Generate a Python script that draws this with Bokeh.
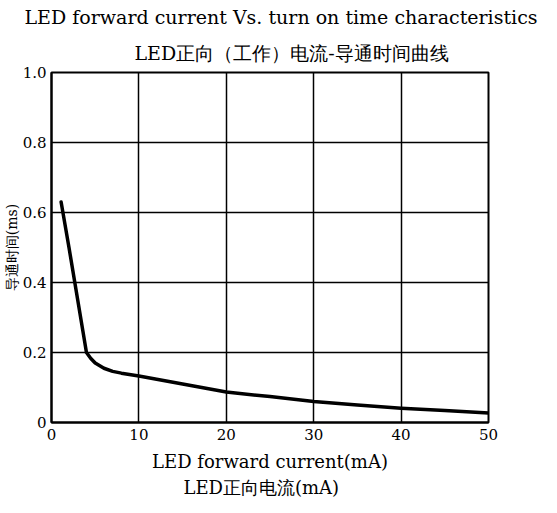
from bokeh.plotting import figure
from bokeh.models import Range1d, FixedTicker, Title
from bokeh.embed import file_html
from bokeh.resources import INLINE

# data
current_ma = [1.1, 2.0, 3.0, 3.6, 4.0, 4.5, 5.0, 6.0, 7.0, 8.0, 10.0, 15.0, 20.0, 25.0, 30.0, 35.0, 40.0, 45.0, 50.0]
turn_on_ms = [0.63, 0.50, 0.35, 0.26, 0.20, 0.183, 0.17, 0.155, 0.146, 0.141, 0.133, 0.11, 0.087, 0.074, 0.06, 0.05, 0.041, 0.034, 0.027]

x_ticks = [0, 10, 20, 30, 40, 50]
y_ticks = [0, 0.2, 0.4, 0.6, 0.8, 1.0]
y_tick_labels = {0: "0", 0.2: "0.2", 0.4: "0.4", 0.6: "0.6", 0.8: "0.8", 1.0: "1.0"}

title_en = "LED forward current Vs. turn on time characteristics"
title_cn = "LED正向（工作）电流-导通时间曲线"
xlabel_en = "LED forward current(mA)"
xlabel_cn = "LED正向电流(mA)"
ylabel_cn = "导通时间(ms)"

SERIF = "DejaVu Serif"

p = figure(width=541, height=497, output_backend="svg", toolbar_location=None,
           title=None,
           x_range=Range1d(0, 50), y_range=Range1d(0, 1.0),
           min_border_left=44, min_border_right=53, min_border_top=20, min_border_bottom=20)
p.background_fill_color = "white"
p.border_fill_color = "white"
p.outline_line_color = "black"
p.outline_line_width = 2

p.xaxis.ticker = FixedTicker(ticks=x_ticks)
p.yaxis.ticker = FixedTicker(ticks=y_ticks)
p.yaxis.major_label_overrides = y_tick_labels
for ax in (p.xaxis, p.yaxis):
    ax.axis_line_color = "black"
    ax.axis_line_width = 2
    ax.major_tick_line_color = None
    ax.minor_tick_line_color = None
    ax.major_tick_in = 0
    ax.major_tick_out = 0
    ax.minor_tick_in = 0
    ax.minor_tick_out = 0
    ax.major_label_text_font = SERIF
    ax.major_label_text_font_size = "15px"
    ax.major_label_text_color = "black"
    ax.axis_label_text_font = SERIF
    ax.axis_label_text_font_style = "normal"
    ax.axis_label_text_color = "black"
p.xaxis.major_label_standoff = 6
p.yaxis.major_label_standoff = 5

p.xaxis.axis_label = xlabel_en
p.xaxis.axis_label_text_font_size = "18px"
p.xaxis.axis_label_standoff = 8

p.yaxis.axis_label = ylabel_cn
p.yaxis.axis_label_text_font_size = "14px"
p.yaxis.axis_label_standoff = 0

p.xgrid.ticker = FixedTicker(ticks=x_ticks)
p.ygrid.ticker = FixedTicker(ticks=y_ticks)
for g in (p.xgrid, p.ygrid):
    g.grid_line_color = "black"
    g.grid_line_width = 1.5
    g.grid_line_alpha = 1.0

p.line(current_ma, turn_on_ms, line_color="black", line_width=3.5, line_join="round", line_cap="round")

def make_title(text, offset, standoff, size):
    return Title(text=text, align="left", offset=offset, standoff=standoff,
                 text_font=SERIF, text_font_size=size, text_font_style="normal",
                 text_color="black", vertical_align="bottom")

p.add_layout(make_title(title_cn, 83, 18, "19px"), "above")
p.add_layout(make_title(title_en, -27, 6, "19px"), "above")
p.add_layout(make_title(xlabel_cn, 132, 0, "18px"), "below")

open("out.html", "w").write(file_html(p, INLINE))
